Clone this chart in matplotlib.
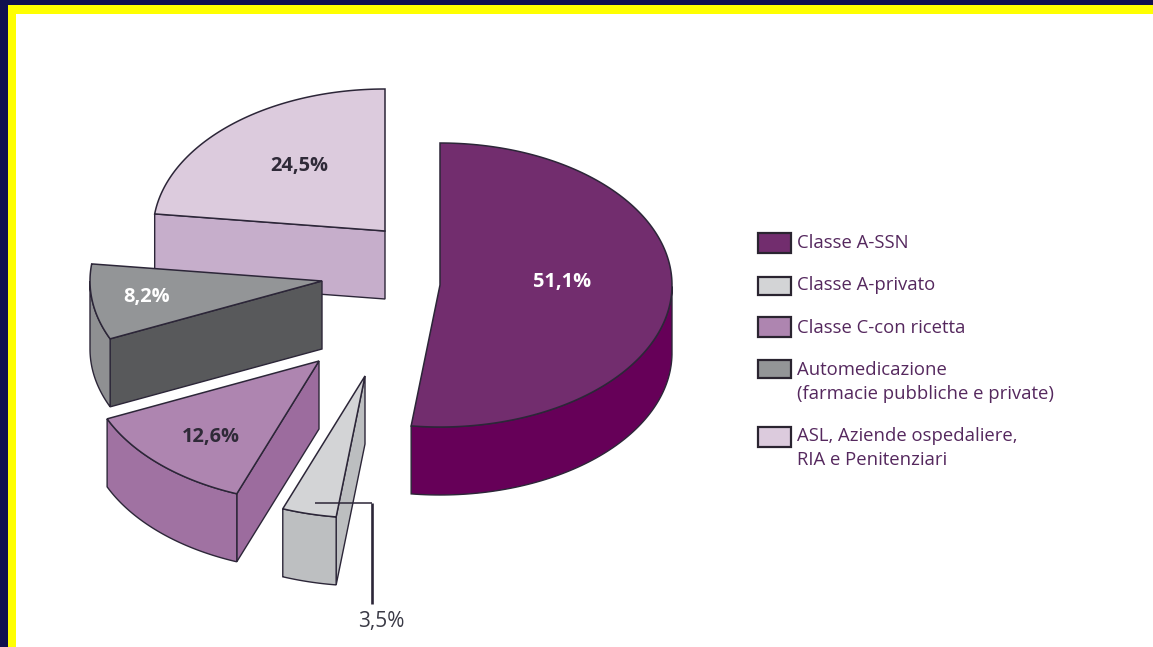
import numpy as np
import matplotlib
matplotlib.use("Agg")
import matplotlib.pyplot as plt
from matplotlib.patches import Polygon, Rectangle

plt.rcParams['font.family'] = ['Open Sans', 'DejaVu Sans']

# ---- data
categories = ["Classe A-SSN", "Classe A-privato", "Classe C-con ricetta",
              "Automedicazione\n(farmacie pubbliche e private)",
              "ASL, Aziende ospedaliere,\nRIA e Penitenziari"]
shares = [51.1, 3.5, 12.6, 8.2, 24.5]
share_labels = ["51,1%", "3,5%", "12,6%", "8,2%", "24,5%"]

# ---- style
top_colors = ["#722d6e", "#d3d4d6", "#ae85b0", "#939597", "#dccbdd"]
arc_colors = ["#660058", "#bdbfc1", "#a072a2", "#8f9092", "#c6aecb"]
cut_colors = ["#660058", "#bcbec0", "#9c6c9e", "#58595b", "#c6aecb"]
legend_colors = ["#722d6e", "#d3d4d6", "#ae85b0", "#939597", "#dccbdd"]
apexes = [(440, 285), (365, 376), (319, 361), (322, 281), (385, 231)]
view_nudge = [0, 3, 4, 3.8, 5.2, 0]   # tilt of the view, degrees at each slice boundary
label_pos = [(562, 281), (381, 620), (211, 436), (147, 296), (299, 165)]
label_col = ["white", "#3a3a46", "#2f2a38", "white", "#2f2a38"]
legend_y = [(233, 253), (277, 295), (317, 337), (360, 378), (427, 447)]
text_y = [243, 285, 328, 382, 448]
RX, RY, DEPTH = 232, 142, 68
EDGE = "#2c2638"
TXT = "#55285e"

fig = plt.figure(figsize=(11.53, 6.47), dpi=100, facecolor="white")
ax = fig.add_axes([0, 0, 1, 1])
ax.set_xlim(0, 1153)
ax.set_ylim(647, 0)
ax.axis("off")

# frame
ax.add_patch(Rectangle((0, 0), 1153, 14, fc="#ffff00", ec="none", zorder=1))
ax.add_patch(Rectangle((0, 0), 16, 647, fc="#ffff00", ec="none", zorder=1))
ax.add_patch(Rectangle((0, 0), 1153, 5, fc="#10104f", ec="none", zorder=2))
ax.add_patch(Rectangle((0, 0), 8, 647, fc="#10104f", ec="none", zorder=2))


def pts(c, t, dz=0.0):
    t = np.radians(t)
    return np.column_stack([c[0] + RX * np.cos(t), c[1] - RY * np.sin(t) + dz])


cum = np.concatenate([[0], np.cumsum(shares)]) / sum(shares) * 360
bounds = 90 - (cum + np.array(view_nudge))
z = 10
for i in reversed(range(len(shares))):
    c = apexes[i]
    t0, t1 = bounds[i], bounds[i + 1]
    ts = np.linspace(t0, t1, 160)
    arc = pts(c, ts)
    # cut face at the leading edge of the slice
    if i > 0:
        p = pts(c, [t0])[0]
        ax.add_patch(Polygon([c, p, (p[0], p[1] + DEPTH), (c[0], c[1] + DEPTH)],
                             fc=cut_colors[i], ec=EDGE, lw=1.0, zorder=z))
    # outer wall: only the part facing the viewer
    vis = ts[(ts <= 0) & (ts >= -180)]
    if len(vis) > 1:
        a = pts(c, vis)
        b = pts(c, vis[::-1], DEPTH)
        ax.add_patch(Polygon(np.vstack([a, b]), fc=arc_colors[i], ec=EDGE, lw=1.0, zorder=z + 1))
    # top face
    ax.add_patch(Polygon(np.vstack([[c], arc]), fc=top_colors[i], ec=EDGE, lw=1.1, zorder=z + 2))
    z += 3

# labels
for i, s in enumerate(share_labels):
    ax.text(label_pos[i][0], label_pos[i][1] + 1, s, color=label_col[i],
            fontsize=14.4 if i != 1 else 15, fontweight="bold" if i != 1 else "normal",
            ha="center", va="center", zorder=60)

# leader for the small slice
ax.plot([315, 372], [503, 503], color=EDGE, lw=1.1, zorder=61, solid_capstyle="butt")
ax.plot([372, 372], [503, 604], color=EDGE, lw=1.9, zorder=61, solid_capstyle="butt")

# legend
for i, cat in enumerate(categories):
    y0, y1 = legend_y[i]
    ax.add_patch(Rectangle((758, y0), 33, y1 - y0, fc=legend_colors[i], ec="#2a2430", lw=1.6, zorder=60))
    ax.text(797, text_y[i], cat, color=TXT, fontsize=13.3, ha="left", va="center",
            linespacing=1.49, zorder=60)

fig.savefig("out.png", dpi=100, facecolor="white")
